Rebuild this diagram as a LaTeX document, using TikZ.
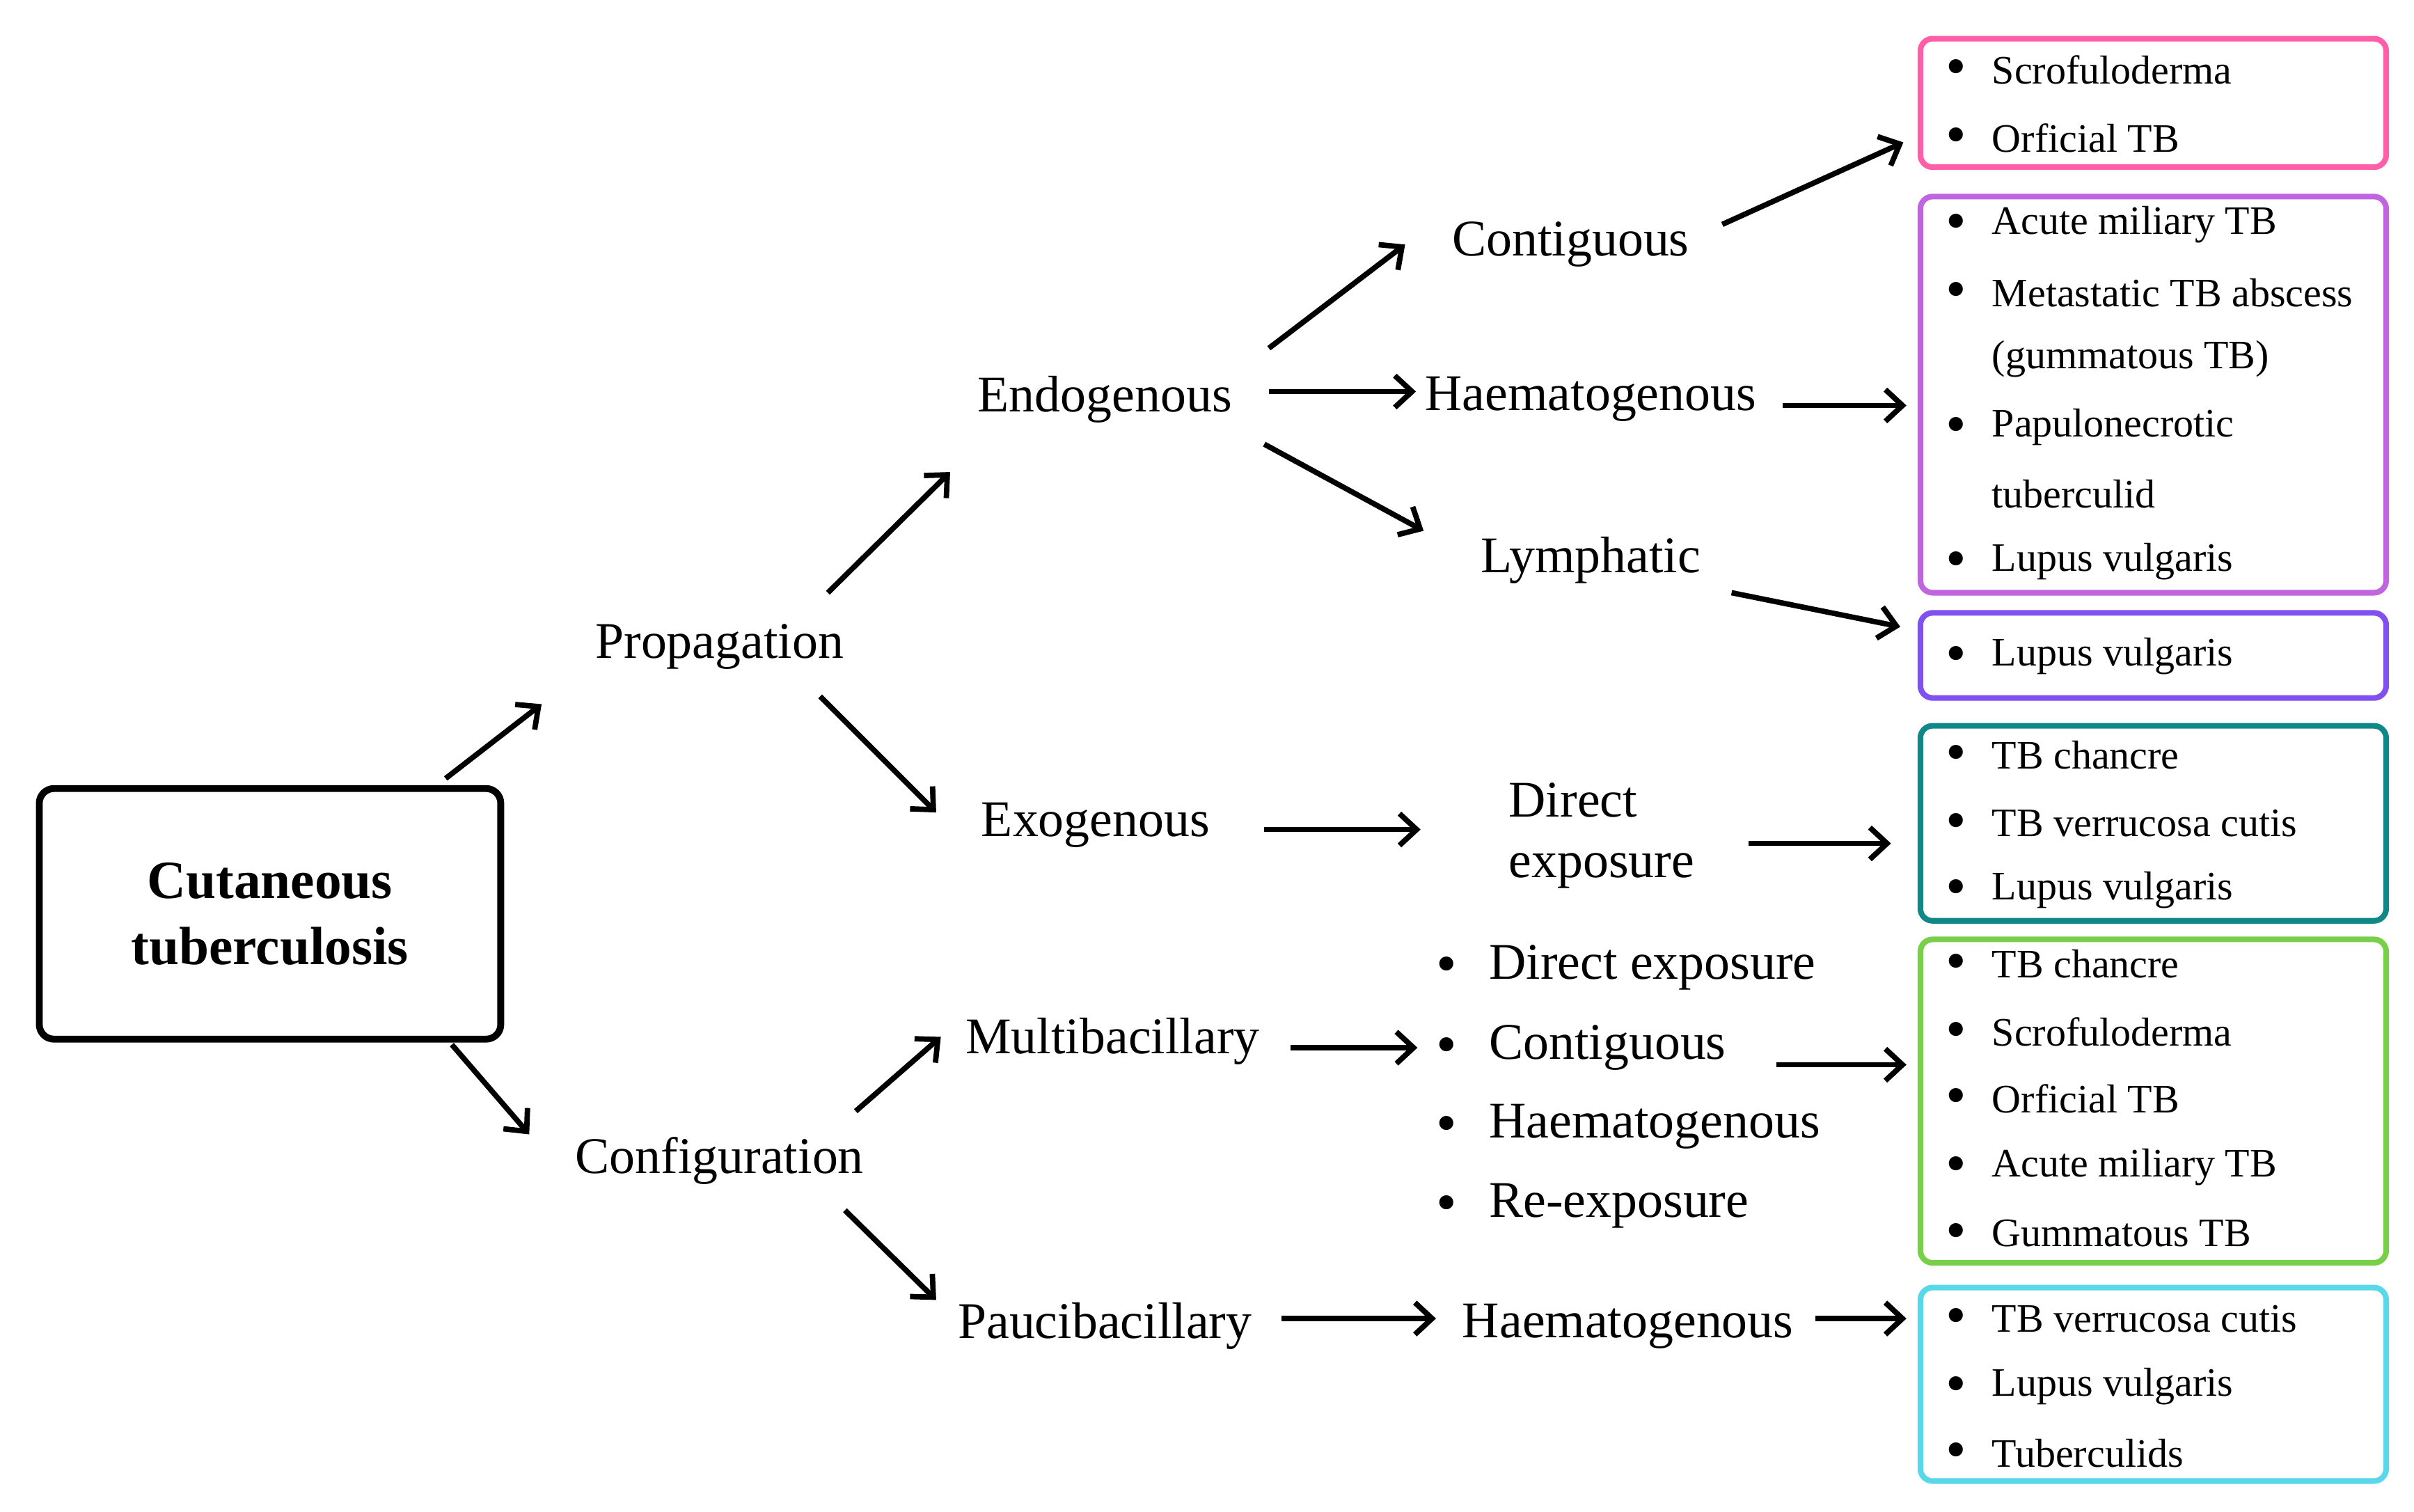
\documentclass[tikz,border=0pt]{standalone}
\usepackage{fontspec}
\setmainfont{Liberation Serif}
\usetikzlibrary{arrows.meta}
\definecolor{cA}{HTML}{FF5FA8}
\definecolor{cB}{HTML}{C064E0}
\definecolor{cC}{HTML}{8050F0}
\definecolor{cD}{HTML}{108888}
\definecolor{cE}{HTML}{78D048}
\definecolor{cF}{HTML}{58D8E8}
\begin{document}
\begin{tikzpicture}[x=0.02223cm,y=-0.02223cm,
 lab/.style={font=\fontsize{21}{25}\selectfont,inner sep=0},
 it/.style={font=\fontsize{16.5}{20}\selectfont,inner sep=0,anchor=west},
 bul/.style={font=\fontsize{24}{24}\selectfont,inner sep=0},
 arr/.style={-{Straight Barb[length=7pt,width=13pt,line width=2.2pt]},line width=2.2pt},
 bx/.style={line width=2.3pt,rounded corners=5pt}]
\useasboundingbox (0,0) rectangle (1560,977);
\node[draw,line width=2.8pt,rounded corners=6pt,minimum width=6.63cm,minimum height=3.6cm,align=center,font=\fontsize{22}{27}\selectfont\bfseries] (main) at (174.5,590.5) {Cutaneous\\tuberculosis};
\node[lab] (prop) at (465,418) {Propagation};
\node[lab] (conf) at (465,750) {Configuration};
\node[lab] (endo) at (714,258) {Endogenous};
\node[lab] (exo) at (708,533) {Exogenous};
\node[lab] (multi) at (719,673) {Multibacillary};
\node[lab] (pauci) at (714,857) {Paucibacillary};
\node[lab] (cont) at (1015,158) {Contiguous};
\node[lab] (haem) at (1028,258) {Haematogenous};
\node[lab] (lymph) at (1028,362) {Lymphatic};
\node[lab,align=left] (direct) at (1035,540) {Direct\\exposure};
\node[lab] (haem2) at (1052,857) {Haematogenous};
\foreach \t/\y [count=\i] in {Direct exposure/625,Contiguous/677,Haematogenous/728,Re-exposure/779}{
 \node[bul] (mb\i) at (935,\y+2) {\textbullet};
 \node[lab,anchor=west] (mt\i) at (962,\y) {\t};}
% boxes
\draw[bx,cA] (1241,25) rectangle (1542,108);
\draw[bx,cB] (1241,127) rectangle (1542,383);
\draw[bx,cC] (1241,396) rectangle (1542,451);
\draw[bx,cD] (1241,469) rectangle (1542,595);
\draw[bx,cE] (1241,607) rectangle (1542,816);
\draw[bx,cF] (1241,832) rectangle (1542,957);
\foreach \t/\y/\b [count=\i] in {Scrofuloderma/45/1,Orficial TB/89/1,Acute miliary TB/145/1,Metastatic TB abscess/189/1,(gummatous TB)/232/0,Papulonecrotic/276/1,tuberculid/319/0,Lupus vulgaris/363/1,Lupus vulgaris/424/1,TB chancre/488/1,TB verrucosa cutis/532/1,Lupus vulgaris/575/1,TB chancre/623/1,Scrofuloderma/667/1,Orficial TB/710/1,Acute miliary TB/754/1,Gummatous TB/797/1,TB verrucosa cutis/852/1,Lupus vulgaris/896/1,Tuberculids/939/1}{
 \ifnum\b=1 \node[bul] (b\i) at (1264,\y+2) {\textbullet};\fi
 \node[it] (i\i) at (1287,\y) {\t};}
% arrows
\foreach \n/\a/\b in {a1/{288,503}/{350,455}, a2/{292,675}/{342,733}, a3/{535,383}/{614,305}, a4/{530,450}/{605,525},
 a5/{553,718}/{608,670}, a6/{546,782}/{605,840}, a7/{820,225}/{908,158}, a8/{820,253}/{915,253}, a9/{817,287}/{920,343},
 a10/{817,536}/{918,536}, a11/{834,677}/{916,677}, a12/{828,852}/{928,852}, a13/{1113,145}/{1230,92},
 a14/{1152,262}/{1232,262}, a15/{1119,383}/{1228,405}, a16/{1130,545}/{1222,545}, a17/{1148,688}/{1232,688}, a18/{1173,852}/{1232,852}}{
 \coordinate (\n s) at (\a); \coordinate (\n e) at (\b);
 \draw[arr] (\n s) -- (\n e);}
\end{tikzpicture}
\end{document}
